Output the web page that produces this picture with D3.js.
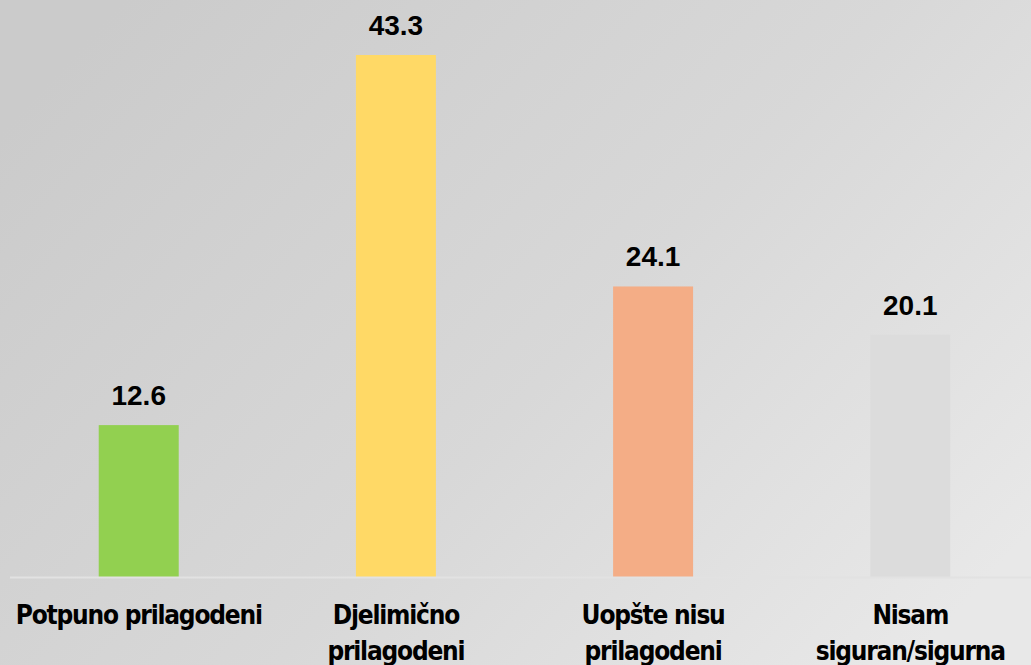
<!DOCTYPE html>
<html>
<head>
<meta charset="utf-8">
<script src="https://cdn.jsdelivr.net/npm/d3@7"></script>
<style>
  html, body { margin: 0; padding: 0; overflow: hidden; }
  svg { display: block; }
</style>
</head>
<body>
<script>
var categories = ["Potpuno prilagodeni", "Djelimično prilagodeni", "Uopšte nisu prilagodeni", "Nisam siguran/sigurna"];
var labelLines = [["Potpuno prilagodeni"], ["Djelimično", "prilagodeni"], ["Uopšte nisu", "prilagodeni"], ["Nisam", "siguran/sigurna"]];
var values = [12.6, 43.3, 24.1, 20.1];
var colors = ["#92d050", "#ffd966", "#f4ad86", "#dcdcdc"];

var width = 1031, height = 665;
var baseY = 577;

var svg = d3.select("body").append("svg")
  .attr("width", width)
  .attr("height", height);

var defs = svg.append("defs");
var grad = defs.append("linearGradient")
  .attr("id", "bg")
  .attr("x1", "0%").attr("y1", "20%")
  .attr("x2", "100%").attr("y2", "80%");
grad.append("stop").attr("offset", "0%").attr("stop-color", "#cbcbcb");
grad.append("stop").attr("offset", "55%").attr("stop-color", "#d8d8d8");
grad.append("stop").attr("offset", "100%").attr("stop-color", "#e8e8e8");

svg.append("rect")
  .attr("width", width).attr("height", height)
  .attr("fill", "url(#bg)");

var x = d3.scaleBand()
  .domain(categories)
  .range([10, 1039])
  .paddingInner(0.689)
  .paddingOuter(0.345);

var y = d3.scaleLinear()
  .domain([0, 43.3])
  .range([baseY, 55]);

svg.selectAll("rect.bar")
  .data(values)
  .enter()
  .append("rect")
  .attr("class", "bar")
  .attr("x", function(d, i) { return x(categories[i]); })
  .attr("y", function(d) { return y(d); })
  .attr("width", x.bandwidth())
  .attr("height", function(d) { return baseY - y(d); })
  .attr("fill", function(d, i) { return colors[i]; });

// baseline
svg.append("line")
  .attr("x1", 10).attr("x2", width)
  .attr("y1", baseY + 0.5).attr("y2", baseY + 0.5)
  .attr("stroke", "#e2e2e2")
  .attr("stroke-width", 2);

// value labels
svg.selectAll("text.val")
  .data(values)
  .enter()
  .append("text")
  .attr("class", "val")
  .attr("x", function(d, i) { return x(categories[i]) + x.bandwidth() / 2; })
  .attr("y", function(d) { return y(d) - 20; })
  .attr("text-anchor", "middle")
  .style("font-family", "'Liberation Sans', Arial, sans-serif")
  .style("font-weight", "bold")
  .style("font-size", "28px")
  .style("fill", "#000")
  .text(function(d) { return d.toFixed(1); });

// category labels (condensed, squeezed a bit to match the narrow font)
var cat = svg.selectAll("text.cat")
  .data(labelLines)
  .enter()
  .append("text")
  .attr("class", "cat")
  .attr("text-anchor", "middle")
  .style("font-family", "'DejaVu Sans Condensed', 'DejaVu Sans', sans-serif")
  .style("font-stretch", "condensed")
  .style("font-weight", "bold")
  .style("font-size", "26px")
  .style("letter-spacing", "-1.2px")
  .style("fill", "#000");

cat.each(function(lines, i) {
  var t = d3.select(this);
  lines.forEach(function(line, j) {
    t.append("tspan")
      .attr("x", x(categories[i]) + x.bandwidth() / 2)
      .attr("y", 624 + j * 36)
      .text(line);
  });
});
</script>
</body>
</html>
